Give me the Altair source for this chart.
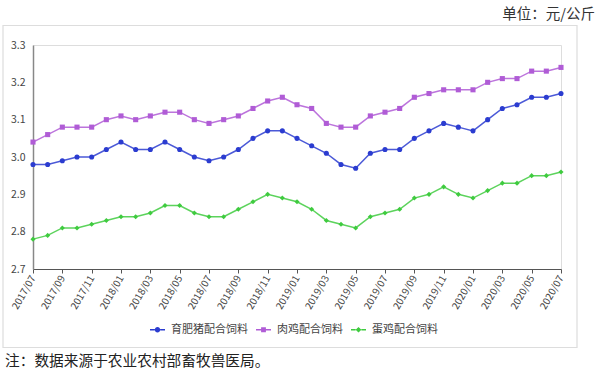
import altair as alt
import pandas as pd

months = ["2017/07", "2017/08", "2017/09", "2017/10", "2017/11", "2017/12",
          "2018/01", "2018/02", "2018/03", "2018/04", "2018/05", "2018/06",
          "2018/07", "2018/08", "2018/09", "2018/10", "2018/11", "2018/12",
          "2019/01", "2019/02", "2019/03", "2019/04", "2019/05", "2019/06",
          "2019/07", "2019/08", "2019/09", "2019/10", "2019/11", "2019/12",
          "2020/01", "2020/02", "2020/03", "2020/04", "2020/05", "2020/06",
          "2020/07"]
tick_months = ["2017/07", "2017/09", "2017/11", "2018/01", "2018/03", "2018/05",
               "2018/07", "2018/09", "2018/11", "2019/01", "2019/03", "2019/05",
               "2019/07", "2019/09", "2019/11", "2020/01", "2020/03", "2020/05",
               "2020/07"]

series_names = ["育肥猪配合饲料", "肉鸡配合饲料", "蛋鸡配合饲料"]
pig = [2.98, 2.98, 2.99, 3.00, 3.00, 3.02, 3.04, 3.02, 3.02, 3.04, 3.02, 3.00,
       2.99, 3.00, 3.02, 3.05, 3.07, 3.07, 3.05, 3.03, 3.01, 2.98, 2.97, 3.01,
       3.02, 3.02, 3.05, 3.07, 3.09, 3.08, 3.07, 3.10, 3.13, 3.14, 3.16, 3.16,
       3.17]
broiler = [3.04, 3.06, 3.08, 3.08, 3.08, 3.10, 3.11, 3.10, 3.11, 3.12, 3.12, 3.10,
           3.09, 3.10, 3.11, 3.13, 3.15, 3.16, 3.14, 3.13, 3.09, 3.08, 3.08, 3.11,
           3.12, 3.13, 3.16, 3.17, 3.18, 3.18, 3.18, 3.20, 3.21, 3.21, 3.23, 3.23,
           3.24]
layer_hen = [2.78, 2.79, 2.81, 2.81, 2.82, 2.83, 2.84, 2.84, 2.85, 2.87, 2.87, 2.85,
             2.84, 2.84, 2.86, 2.88, 2.90, 2.89, 2.88, 2.86, 2.83, 2.82, 2.81, 2.84,
             2.85, 2.86, 2.89, 2.90, 2.92, 2.90, 2.89, 2.91, 2.93, 2.93, 2.95, 2.95,
             2.96]
y_ticks = [2.7, 2.8, 2.9, 3.0, 3.1, 3.2, 3.3]

unit_text = "单位：元/公斤"
note_text = "注：数据来源于农业农村部畜牧兽医局。"

colors = ["#2B3CD0", "#B05CD6", "#3FCB3F"]
marker_shapes = ["circle", "square", "diamond"]
legend_shapes = [
    "M-1,-0.09H-0.36V0.09H-1Z M0.36,-0.09H1V0.09H0.36Z "
    "M-0.36,0A0.36,0.36 0 1,0 0.36,0A0.36,0.36 0 1,0 -0.36,0Z",
    "M-1,-0.09H-0.32V0.09H-1Z M0.32,-0.09H1V0.09H0.32Z "
    "M-0.32,-0.32H0.32V0.32H-0.32Z",
    "M-1,-0.09H-0.38V0.09H-1Z M0.38,-0.09H1V0.09H0.38Z "
    "M0,-0.38L0.38,0L0,0.38L-0.38,0Z",
]

rows = []
for name, vals in zip(series_names, [pig, broiler, layer_hen]):
    for m, v in zip(months, vals):
        rows.append({"month": m, "series": name, "value": v})
df = pd.DataFrame(rows)

FONT = "Noto Sans CJK SC"

x_enc = alt.X("month:O", sort=months,
              scale=alt.Scale(type="point", domain=months, padding=0),
              axis=alt.Axis(values=tick_months, labelAngle=-60, labelFontSize=10,
                            labelColor="#444", tickSize=4, tickColor="#555",
                            domainColor="#555", domainWidth=1.2, labelPadding=3,
                            grid=False, title=None, labelFont=FONT))
y_enc = alt.Y("value:Q",
              scale=alt.Scale(domain=[2.7, 3.3], nice=False, zero=False),
              axis=alt.Axis(values=y_ticks, format=".1f", ticks=False, grid=False,
                            labelFontSize=10.5, labelColor="#444", labelPadding=8,
                            domainColor="#888", domainWidth=1.5, title=None,
                            labelFont=FONT))
legend = alt.Legend(orient="none", legendX=117, legendY=277, direction="horizontal",
                    title=None, labelFontSize=11, labelColor="#444", labelFont=FONT,
                    symbolSize=225, symbolStrokeWidth=0, symbolOpacity=1,
                    labelOffset=6, columnPadding=8)
color_enc = alt.Color("series:N", scale=alt.Scale(domain=series_names, range=colors),
                      legend=legend)

base = alt.Chart(df)

frame = alt.Chart(pd.DataFrame({"k": [0]})).mark_rect(
    fillOpacity=0, stroke="#DDDDDD", strokeWidth=1.2
).encode(x=alt.value(-30), x2=alt.value(544), y=alt.value(-19.5), y2=alt.value(302.5))

lines = base.mark_line(strokeWidth=1.5, opacity=0.85).encode(
    x=x_enc, y=y_enc, color=color_enc, detail="series:N")

point_layers = []
for name, shp in zip(series_names, marker_shapes):
    point_layers.append(
        base.transform_filter(alt.datum.series == name)
        .mark_point(filled=True, shape=shp, size=26, opacity=1)
        .encode(x=x_enc, y=y_enc, color=color_enc)
    )

legend_carrier = base.mark_point(filled=True, opacity=0).encode(
    x=x_enc, y=y_enc, color=color_enc,
    shape=alt.Shape("series:N", scale=alt.Scale(domain=series_names, range=legend_shapes),
                    legend=legend))

unit = alt.Chart(pd.DataFrame({"t": [unit_text]})).mark_text(
    align="right", baseline="middle", fontSize=14.5, color="#333", font=FONT
).encode(x=alt.value(562), y=alt.value(-30.5), text="t:N")

note = alt.Chart(pd.DataFrame({"t": [note_text]})).mark_text(
    align="left", baseline="middle", fontSize=14.7, color="#222", font=FONT
).encode(x=alt.value(-28), y=alt.value(316.5), text="t:N")

chart = alt.layer(frame, lines, *point_layers, legend_carrier, unit, note).properties(
    width=528, height=224,
    autosize=alt.AutoSizeParams(type="none"),
    padding={"left": 33, "top": 45, "right": 38, "bottom": 110},
).configure_view(strokeWidth=0).configure(background="white")

chart.save("out.html", embed_options={"renderer": "svg", "actions": False})
